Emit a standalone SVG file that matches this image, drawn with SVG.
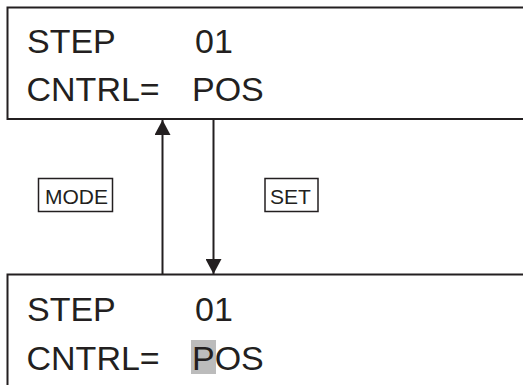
<svg xmlns="http://www.w3.org/2000/svg" width="523" height="385" viewBox="0 0 523 385">
<style>
.box{fill:#fff;stroke:#231f20;stroke-width:2}
.lbl{fill:#fff;stroke:#231f20;stroke-width:1.5}
.big{font-family:"Liberation Sans",Arial,sans-serif;font-size:34px;fill:#231f20}
.small{font-family:"Liberation Sans",Arial,sans-serif;font-size:21px;fill:#231f20}
.line{stroke:#231f20;stroke-width:2;fill:none}
</style>
<defs>
<marker id="ah" viewBox="0 0 15 16" refX="15" refY="8" markerWidth="15" markerHeight="16" markerUnits="userSpaceOnUse" orient="auto">
<path d="M0,0 L15,8 L0,16 Z" fill="#231f20"/>
</marker>
</defs>
<rect width="523" height="385" fill="#fff"/>
<g id="top-display">
<rect class="box" x="7.5" y="7.5" width="530" height="111.5"/>
<text class="big" x="27" y="53">STEP</text>
<text class="big" x="195" y="53">01</text>
<text class="big" x="26.5" y="101">CNTRL=</text>
<text class="big" x="192" y="101">POS</text>
</g>
<g id="bottom-display">
<rect class="box" x="7.5" y="274.5" width="530" height="130"/>
<rect x="191" y="340" width="25" height="34" fill="#bcbcbc"/>
<text class="big" x="27" y="321">STEP</text>
<text class="big" x="195" y="321">01</text>
<text class="big" x="26.5" y="370">CNTRL=</text>
<text class="big" x="192" y="370">POS</text>
</g>
<g id="mode-label">
<rect class="lbl" x="38.5" y="178.5" width="74" height="33"/>
<text class="small" x="45" y="203.5">MODE</text>
</g>
<g id="set-label">
<rect class="lbl" x="265" y="178.5" width="53" height="33"/>
<text class="small" x="270" y="203.5">SET</text>
</g>
<g id="connectors">
<line class="line" x1="162.5" y1="274" x2="162.5" y2="120" marker-end="url(#ah)"/>
<line class="line" x1="213.5" y1="119" x2="213.5" y2="274" marker-end="url(#ah)"/>
</g>
</svg>
